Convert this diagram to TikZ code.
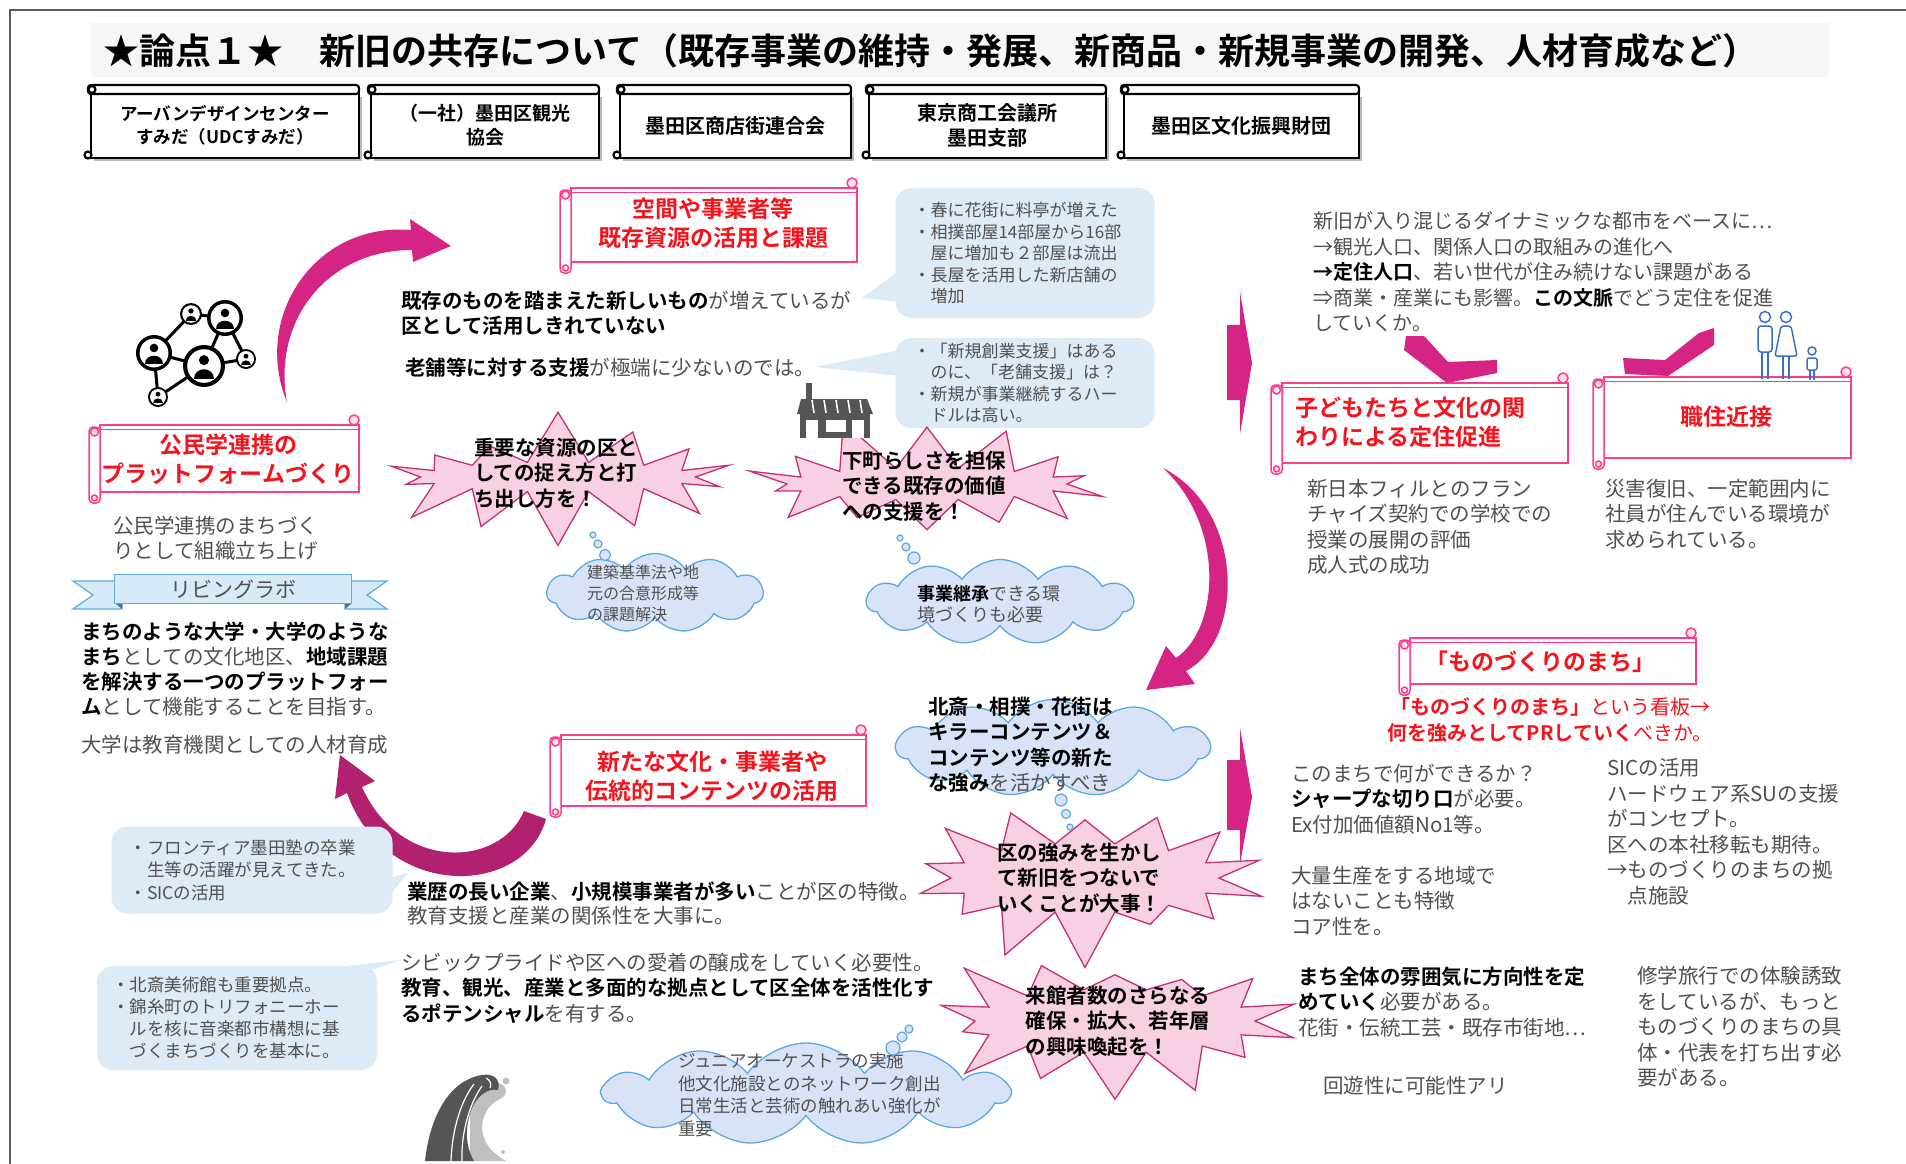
\documentclass[tikz,border=0pt]{standalone}
\usepackage{fontspec}
\setmainfont{Noto Sans CJK JP}[BoldFont={Noto Sans CJK JP Bold}]
\usetikzlibrary{shapes.symbols,calc}

\definecolor{tgray}{RGB}{80,80,80}
\definecolor{mag}{RGB}{214,36,132}
\definecolor{magdark}{RGB}{178,32,112}
\definecolor{pinkln}{RGB}{255,60,140}
\definecolor{pinkfill}{RGB}{255,225,238}
\definecolor{scrollred}{RGB}{245,20,30}
\definecolor{starfill}{RGB}{247,208,228}
\definecolor{starline}{RGB}{196,48,118}
\definecolor{cloudfill}{RGB}{217,227,247}
\definecolor{cloudline}{RGB}{90,170,225}
\definecolor{callfill}{RGB}{221,235,247}
\definecolor{iconblue}{RGB}{60,110,200}
\definecolor{icongray}{RGB}{85,85,85}
\definecolor{framegray}{RGB}{90,90,90}
\definecolor{ribfill}{RGB}{214,234,248}
\definecolor{ribline}{RGB}{93,173,226}

\newcommand{\hb}[1]{{\bfseries\color{black}#1}}

% scroll with a roll on the left side (pink headings)
\newcommand{\pinkscroll}[5]{%
  \node[pbody, minimum width={#4-#2}, minimum height={#5-#3}] (#1) at ({(#2+#4)/2},{(#3+#5)/2}) {};
  \draw[pedge, fill=white, rounded corners=4] ({#2-11},{#3+2}) rectangle (#2,{#5+11});
  \draw[pedge, fill=pinkfill] ({#2-5.5},{#3+7}) circle (4);
  \draw[pedge, fill=pinkfill] ({#2-5.5},{#5+6}) circle (3);
  \draw[pedge, fill=pinkfill] ({#4-5},{#3-5}) circle (5);
  \draw[pedge, line width=1] (#2,{#3+4}) -- (#4,{#3+4});
}
% scroll with a roll along the top (organisation boxes)
\newcommand{\blackscroll}[5]{%
  \fill[gray!55] ({#2+9},{#3+12}) rectangle ({#4+3},{#5+3});
  \node[kbody, minimum width={#4-#2-6}, minimum height={#5-#3-8}] (#1) at ({(#2+#4)/2+3},{(#3+#5)/2+4}) {};
  \draw[kedge, fill=white, rounded corners=3] ({#2+3},#3) rectangle (#4,{#3+9});
  \draw[kedge, fill=white] ({#2+7},{#3+4.5}) circle (3.5);
  \draw[kedge, fill=white] ({#2+3},{#5-3}) circle (3.5);
}
% person in a ring, for the network icon
\newcommand{\netnode}[2]{%
  \fill[black] (#1) circle (#2);
  \fill[white] (#1) circle ({#2*0.8});
  \fill[black] ($(#1)+(0,{-#2*0.28})$) circle ({#2*0.24});
  \fill[black] ($(#1)+({-#2*0.48},{#2*0.62})$) .. controls ($(#1)+({-#2*0.48},{#2*0.02})$) and ($(#1)+({#2*0.48},{#2*0.02})$) .. ($(#1)+({#2*0.48},{#2*0.62})$) -- cycle;
}

\begin{document}
\begin{tikzpicture}[x=1pt,y=-1pt,
  body/.style={font=\fontsize{20.5}{25.5}\selectfont, text=tgray, align=left, anchor=west, inner sep=0},
  pbody/.style={draw=pinkln, line width=1.8, fill=white, inner sep=0},
  pedge/.style={draw=pinkln, line width=1.5},
  ptext/.style={font=\fontsize{23}{29}\selectfont\bfseries, text=scrollred, align=center, inner sep=0},
  kbody/.style={draw=black, line width=2.4, fill=white, inner sep=0},
  kedge/.style={draw=black, line width=2.2},
  ktext/.style={font=\fontsize{19}{24}\selectfont\bfseries, align=center, inner sep=0},
  starb/.style={starburst, draw=starline, line width=1.3, fill=starfill, starburst points=14, starburst point height=55pt, inner sep=0pt},
  startxt/.style={font=\fontsize{20.5}{25.5}\selectfont\bfseries, align=left, inner sep=0},
  cloudb/.style={cloud, draw=cloudline, line width=1.3, fill=cloudfill, cloud puffs=11, cloud puff arc=110, inner sep=0},
  bubble/.style={draw=cloudline, line width=1.2, fill=cloudfill},
  callout/.style={rectangle, rounded corners=16, fill=callfill, inner sep=0, align=left, text=tgray},
  arrowfill/.style={fill=mag}
]
\useasboundingbox (0,0) rectangle (1906,1164);
\fill[white] (0,0) rectangle (1906,1164);

% frame
\draw[framegray, line width=1.6] (10,1164) -- (10,10) -- (1906,10);

% title band
\fill[gray!7] (91,23) rectangle (1829,77);
\node[anchor=west, inner sep=0, font=\fontsize{36}{40}\selectfont\bfseries] (title) at (103,51)
  {★論点１★　新旧の共存について（既存事業の維持・発展、新商品・新規事業の開発、人材育成など）};

% organisation scrolls
\blackscroll{k1}{85}{85}{359}{158}
\node[ktext, font=\fontsize{17.5}{23}\selectfont\bfseries] (k1t) at (k1) {アーバンデザインセンター\\すみだ（UDCすみだ）};
\blackscroll{k2}{365}{85}{599}{158}
\node[ktext] (k2t) at (k2) {（一社）墨田区観光\\協会};
\blackscroll{k3}{614}{85}{851}{158}
\node[ktext, font=\fontsize{20}{24}\selectfont\bfseries] (k3t) at (k3) {墨田区商店街連合会};
\blackscroll{k4}{863}{85}{1106}{158}
\node[ktext, font=\fontsize{20}{25}\selectfont\bfseries] (k4t) at (k4) {東京商工会議所\\墨田支部};
\blackscroll{k5}{1118}{85}{1359}{158}
\node[ktext, font=\fontsize{20}{24}\selectfont\bfseries] (k5t) at (k5) {墨田区文化振興財団};

% curved arrows
\fill[arrowfill] (287,402) .. controls (252,318) and (314,222) .. (411,230)
  -- (410,219) -- (451,246) -- (413,262) -- (412,250)
  .. controls (326,250) and (272,322) .. cycle;
\fill[arrowfill] (1163,468) .. controls (1245,510) and (1245,640) .. (1186,671)
  -- (1195,684) -- (1146,690) -- (1166,646) -- (1176,658)
  .. controls (1220,628) and (1225,525) .. cycle;
\fill[magdark] (546,819) .. controls (524,898) and (385,900) .. (347,793)
  -- (335,799) -- (340,755) -- (375,781) -- (362,787)
  .. controls (400,872) and (500,868) .. (524,811) -- cycle;

% headings
\pinkscroll{p1}{571}{188}{857}{262}
\node[ptext] (p1t) at (713,223) {空間や事業者等\\既存資源の活用と課題};
\pinkscroll{p2}{100}{425}{359}{492}
\node[ptext] (p2t) at (228,459) {公民学連携の\\プラットフォームづくり};
\pinkscroll{p3}{561}{735}{866}{806}
\node[ptext] (p3t) at (712,776) {新たな文化・事業者や\\伝統的コンテンツの活用};
\pinkscroll{p4}{1282}{383}{1568}{463}
\node[ptext, anchor=west, align=left] (p4t) at (1295,422) {子どもたちと文化の関\\わりによる定住促進};
\pinkscroll{p5}{1604}{377}{1851}{458}
\node[ptext] (p5t) at (1726,417) {職住近接};
\pinkscroll{p6}{1410}{638}{1696}{684}
\node[ptext] (p6t) at (1540,662) {「ものづくりのまち」};

% callouts
\coordinate (caTip) at (862,298);
\fill[callfill] (900,270) -- (caTip) -- (900,302) -- cycle;
\node[callout, minimum width=259, minimum height=130, text width=223,
  font=\fontsize{17}{21.5}\selectfont] (ca) at (1025,253)
  {・春に花街に料亭が増えた\\・相撲部屋14部屋から16部\\　屋に増加も２部屋は流出\\・長屋を活用した新店舗の\\　増加};
\coordinate (cbTip) at (815,367);
\fill[callfill] (900,350) -- (cbTip) -- (900,376) -- cycle;
\node[callout, minimum width=259, minimum height=90, text width=223,
  font=\fontsize{17}{21.5}\selectfont] (cb) at (1025,383)
  {・「新規創業支援」はある\\　のに、「老舗支援」は？\\・新規が事業継続するハー\\　ドルは高い。};
\coordinate (clTip) at (408,873);
\fill[callfill] (384,902) -- (clTip) -- (390,878) -- cycle;
\node[callout, minimum width=281, minimum height=87, text width=245,
  font=\fontsize{17.5}{22.5}\selectfont] (cl) at (252,870)
  {・フロンティア墨田塾の卒業\\　生等の活躍が見えてきた。\\・SICの活用};
\coordinate (cmTip) at (401,960);
\fill[callfill] (290,972) -- (cmTip) -- (360,974) -- cycle;
\node[callout, minimum width=280, minimum height=104, text width=250,
  font=\fontsize{17.5}{22}\selectfont] (cm) at (237,1018)
  {・北斎美術館も重要拠点。\\・錦糸町のトリフォニーホー\\　ルを核に音楽都市構想に基\\　づくまちづくりを基本に。};

% body texts, left and centre
\node[body] (t1) at (401,313.5) {\hb{既存のものを踏まえた新しいもの}が増えているが\\\hb{区として活用しきれていない}};
\node[body] (t2) at (405,368) {\hb{老舗等に対する支援}が極端に少ないのでは。};
\node[body] (t3) at (113,538) {公民学連携のまちづく\\りとして組織立ち上げ};
\node[body, font=\fontsize{20.5}{24.8}\selectfont] (t4) at (81,669) {\hb{まちのような大学・大学のような}\\\hb{まち}としての文化地区、\hb{地域課題}\\\hb{を解決する一つのプラットフォー}\\\hb{ム}として機能することを目指す。};
\node[body] (t5) at (81,745) {大学は教育機関としての人材育成};
\node[body, font=\fontsize{20.5}{24}\selectfont] (t6) at (407,903) {\hb{業歴の長い企業}、\hb{小規模事業者が多い}ことが区の特徴。\\教育支援と産業の関係性を大事に。};
\node[body] (t7) at (401,988) {シビックプライドや区への愛着の醸成をしていく必要性。\\\hb{教育、観光、産業と多面的な拠点として区全体を活性化す}\\\hb{るポテンシャル}を有する。};

% body texts, right
\node[body, font=\fontsize{20}{25.5}\selectfont] (r1) at (1313,272) {新旧が入り混じるダイナミックな都市をベースに…\\→観光人口、関係人口の取組みの進化へ\\\hb{→定住人口}、若い世代が住み続けない課題がある\\⇒商業・産業にも影響。\hb{この文脈}でどう定住を促進\\していくか。};
\node[body] (r2) at (1307,527) {新日本フィルとのフラン\\チャイズ契約での学校での\\授業の展開の評価\\成人式の成功};
\node[body] (r3) at (1605,514) {災害復旧、一定範囲内に\\社員が住んでいる環境が\\求められている。};
\node[body, anchor=center, align=center, text=scrollred, font=\fontsize{20}{26}\selectfont] (r4) at (1550,720) {{\bfseries「ものづくりのまち」}という看板→\\{\bfseries 何を強みとしてPRしていく}べきか。};
\node[body] (r5) at (1291,799) {このまちで何ができるか？\\\hb{シャープな切り口}が必要。\\Ex付加価値額No1等。};
\node[body] (r6) at (1291,901) {大量生産をする地域で\\はないことも特徴\\コア性を。};
\node[body] (r7) at (1607,832) {SICの活用\\ハードウェア系SUの支援\\がコンセプト。\\区への本社移転も期待。\\→ものづくりのまちの拠\\　点施設};
\node[body] (r8) at (1298,1002) {\hb{まち全体の雰囲気に方向性を定}\\\hb{めていく}必要がある。\\花街・伝統工芸・既存市街地…};
\node[body] (r9) at (1323,1086) {回遊性に可能性アリ};
\node[body] (r10) at (1637,1027) {修学旅行での体験誘致\\をしているが、もっと\\ものづくりのまちの具\\体・代表を打ち出す必\\要がある。};

% magenta pointers on the right
\fill[mag] (1227,325) -- (1240,325) -- (1240,292) -- (1252,363) -- (1240,434) -- (1240,400) -- (1227,400) -- cycle;
\fill[mag] (1227,760) -- (1240,760) -- (1240,728) -- (1252,797) -- (1240,864) -- (1240,830) -- (1227,830) -- cycle;
\fill[mag] (1406,336) -- (1424,336) -- (1448,362) -- (1497,360) -- (1497,373) -- (1447,383) -- (1404,350) -- cycle;
\fill[mag] (1714,328) -- (1699,333) -- (1665,360) -- (1623,358) -- (1625,374) -- (1668,376) -- (1714,345) -- cycle;

% clouds
\node[cloudb, minimum width=216pt, minimum height=79pt] (c1) at (655,593) {};
\node[body, font=\fontsize{16}{21}\selectfont] (c1t) at (587,593) {建築基準法や地\\元の合意形成等\\の課題解決};
\node[cloudb, minimum width=266pt, minimum height=85pt] (c2) at (1000,602) {};
\node[body, font=\fontsize{18}{21.5}\selectfont] (c2t) at (917,604) {\hb{事業継承}できる環\\境づくりも必要};
\node[cloudb, minimum width=313pt, minimum height=97pt] (c3) at (1053,748) {};
\node[body] (c3t) at (928,745) {\hb{北斎・相撲・花街は}\\\hb{キラーコンテンツ＆}\\\hb{コンテンツ等の新た}\\\hb{な強み}を活かすべき};
\node[cloudb, minimum width=405pt, minimum height=102pt] (c4) at (806,1094) {};
\node[body, font=\fontsize{17.5}{22.5}\selectfont] (c4t) at (678,1095) {ジュニアオーケストラの実施\\他文化施設とのネットワーク創出\\日常生活と芸術の触れあい強化が\\重要};

% stars
\node[starb, minimum width=385pt, minimum height=140pt, random starburst=7] (s1) at (558,477) {};
\node[startxt] (s1t) at (556,473) {重要な資源の区と\\しての捉え方と打\\ち出し方を！};
\node[starb, minimum width=390pt, minimum height=142pt, random starburst=11] (s2) at (927,484) {};
\node[startxt] (s2t) at (924,486) {下町らしさを担保\\できる既存の価値\\への支援を！};
\node[starb, minimum width=378pt, minimum height=180pt, random starburst=19] (s3) at (1085,878) {};
\node[startxt] (s3t) at (1079,878) {区の強みを生かし\\て新旧をつないで\\いくことが大事！};
\node[starb, minimum width=390pt, minimum height=174pt, random starburst=23] (s4) at (1115,1021) {};
\node[startxt] (s4t) at (1118,1021) {来館者数のさらなる\\確保・拡大、若年層\\の興味喚起を！};

% thought bubbles
\draw[bubble] (593,535) circle (3) (598,544) circle (4) (605,555) circle (5.5);
\draw[bubble] (900,538) circle (3) (906,547) circle (4) (914,558) circle (6);
\draw[bubble] (1061,800) circle (6) (1066,814) circle (4.5) (1070,827) circle (3);
\draw[bubble] (893,1048) circle (7) (902,1037) circle (5) (909,1029) circle (4);

% living lab ribbon
\draw[ribline, fill=ribfill, line width=1.2] (73,581) -- (122,581) -- (122,609) -- (73,609) -- (93,595) -- cycle;
\draw[ribline, fill=ribfill, line width=1.2] (387,581) -- (345,581) -- (345,609) -- (387,609) -- (367,595) -- cycle;
\fill[ribline!70!black] (115,603) -- (122,609) -- (122,603) -- cycle;
\fill[ribline!70!black] (352,603) -- (345,609) -- (345,603) -- cycle;
\node[draw=ribline, fill=ribfill, line width=1.4, minimum width=237pt, minimum height=29pt, inner sep=0,
  font=\fontsize{21}{24}\selectfont, text=tgray] (lab) at (233,589) {リビングラボ};

% network icon
\coordinate (n1) at (191,314);
\coordinate (n2) at (225,318);
\coordinate (n3) at (154,353);
\coordinate (n4) at (246,359);
\coordinate (n5) at (204,366);
\coordinate (n6) at (158,397);
\draw[black, line width=3] (n1) -- (n2) (n1) -- (n3) (n2) -- (n5) (n2) -- (n4) (n4) -- (n5) (n3) -- (n5) (n3) -- (n6) (n5) -- (n6);
\netnode{n1}{11}
\netnode{n2}{18}
\netnode{n3}{18}
\netnode{n4}{10}
\netnode{n5}{21}
\netnode{n6}{10}

% shop icon
\fill[icongray] (806,383) rectangle (812,400);
\fill[icongray] (801,399) -- (867,399) -- (873,414) -- (797,414) -- cycle;
\foreach \sx in {812,824,836,848,860} {\draw[white, line width=1.6] (\sx,400) -- ({\sx+2},413);}
\fill[icongray] (800,414) rectangle (870,438);
\fill[white] (806,420) rectangle (818,438);
\fill[white] (826,420) rectangle (846,432);
\fill[white] (852,420) rectangle (864,438);

% family icon
\begin{scope}[iconblue, line width=1.5]
  \draw (1765,317) circle (5.5);
  \draw[rounded corners=3] (1758,326) rectangle (1772,352);
  \draw (1762,352) -- (1762,379) (1768,352) -- (1768,379);
  \draw (1786,317) circle (5.5);
  \draw[rounded corners=2] (1781,326) -- (1791,326) -- (1797,356) -- (1775,356) -- cycle;
  \draw (1783,356) -- (1783,379) (1789,356) -- (1789,379);
  \draw (1812,351) circle (4);
  \draw[rounded corners=2] (1807,358) rectangle (1817,370);
  \draw (1810,370) -- (1810,380) (1814,370) -- (1814,380);
\end{scope}

% wave icon
\fill[gray!50] (488,1084) .. controls (505,1078) and (512,1094) .. (500,1099)
  .. controls (484,1106) and (478,1126) .. (485,1140)
  .. controls (490,1152) and (500,1157) .. (506,1161) -- (470,1161) -- (470,1100) -- cycle;
\fill[icongray] (425,1161) .. controls (430,1115) and (450,1080) .. (482,1075)
  .. controls (494,1073) and (501,1080) .. (498,1090)
  .. controls (488,1088) and (478,1095) .. (472,1108)
  .. controls (464,1128) and (466,1148) .. (474,1161) -- cycle;
\draw[white, line width=1.2] (474,1084) .. controls (460,1102) and (452,1132) .. (451,1161)
  (482,1086) .. controls (468,1106) and (461,1136) .. (462,1161)
  (486,1078) .. controls (490,1080) and (492,1084) .. (490,1088);
\fill[gray!50] (506,1081) circle (3.5) (485,1103) circle (3) (503,1152) circle (2);
\end{tikzpicture}
\end{document}
